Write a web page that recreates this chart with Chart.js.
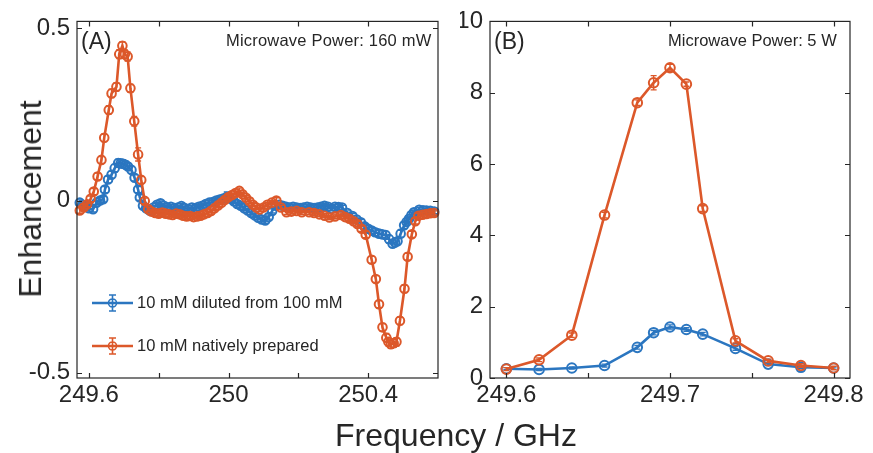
<!DOCTYPE html>
<html>
<head>
<meta charset="utf-8">
<script src="https://cdn.jsdelivr.net/npm/chart.js@4.4.0/dist/chart.umd.min.js"></script>
<style>
  body { margin: 0; background: #fff; width: 873px; height: 453px; overflow: hidden; position: relative;
         font-family: 'Liberation Sans', Arial, sans-serif; color: #262626; }
  canvas { position: absolute; top: 0; }
  #panelA { left: 0; }
  #panelB { left: 460px; }
  .axis-title { position: absolute; font-size: 32px; white-space: nowrap; line-height: 1; }
  #ylab { left: 30px; top: 199px; transform: translate(-50%, -50%) rotate(-90deg); }
  #xlab { left: 456px; top: 435px; transform: translate(-50%, -50%); }
</style>
</head>
<body>
<canvas id="panelA" width="460" height="453"></canvas>
<canvas id="panelB" width="413" height="453"></canvas>
<div class="axis-title" id="ylab">Enhancement</div>
<div class="axis-title" id="xlab">Frequency / GHz</div>

<script>
// ---- (A) 160 mW sweep ----
const freqA_diluted = [
  249.574, 249.582, 249.589, 249.600, 249.612, 249.622, 249.632, 249.641, 249.646, 249.655,
  249.665, 249.674, 249.684, 249.691, 249.698, 249.705, 249.712, 249.722, 249.731, 249.741,
  249.746, 249.755, 249.764, 249.774, 249.785, 249.795, 249.805, 249.815, 249.825, 249.835,
  249.845, 249.855, 249.865, 249.875, 249.885, 249.895, 249.905, 249.915, 249.925, 249.935,
  249.945, 249.955, 249.965, 249.975, 249.985, 249.995, 250.005, 250.015, 250.025, 250.035,
  250.045, 250.055, 250.065, 250.075, 250.085, 250.095, 250.105, 250.115, 250.125, 250.135,
  250.145, 250.155, 250.165, 250.175, 250.185, 250.195, 250.205, 250.215, 250.225, 250.235,
  250.245, 250.255, 250.265, 250.275, 250.285, 250.295, 250.305, 250.315, 250.325, 250.340,
  250.355, 250.367, 250.379, 250.390, 250.400, 250.410, 250.420, 250.431, 250.440, 250.450,
  250.460, 250.470, 250.477, 250.484, 250.493, 250.503, 250.510, 250.517, 250.524, 250.531,
  250.546, 250.557, 250.567, 250.578, 250.589
];
const enhA_diluted = [
  -0.006, -0.012, -0.017, -0.022, -0.025, -0.006, 0.000, 0.004, 0.032, 0.061,
  0.075, 0.094, 0.109, 0.108, 0.107, 0.104, 0.099, 0.089, 0.066, 0.032,
  0.009, -0.015, -0.022, -0.029, -0.020, -0.012, -0.008, -0.015, -0.020, -0.018,
  -0.022, -0.020, -0.016, -0.022, -0.025, -0.020, -0.022, -0.018, -0.015, -0.010,
  -0.006, -0.004, 0.000, 0.003, 0.006, 0.010, 0.006, -0.002, -0.010, -0.015,
  -0.022, -0.029, -0.036, -0.043, -0.050, -0.055, -0.058, -0.048, -0.030, -0.015,
  -0.012, -0.015, -0.018, -0.020, -0.018, -0.020, -0.022, -0.020, -0.018, -0.020,
  -0.022, -0.020, -0.018, -0.015, -0.018, -0.024, -0.018, -0.019, -0.020, -0.036,
  -0.045, -0.055, -0.063, -0.075, -0.082, -0.087, -0.092, -0.096, -0.098, -0.100,
  -0.112, -0.125, -0.122, -0.118, -0.096, -0.072, -0.062, -0.053, -0.042, -0.034,
  -0.027, -0.028, -0.029, -0.030, -0.032
];
const errA_diluted = [
  0.008, 0.007, 0.007, 0.008, 0.008, 0.007, 0.008, 0.008, 0.009, 0.010,
  0.010, 0.011, 0.011, 0.011, 0.011, 0.010, 0.010, 0.010, 0.009, 0.009,
  0.008, 0.008, 0.007, 0.007, 0.006, 0.006, 0.007, 0.006, 0.006, 0.007,
  0.006, 0.006, 0.007, 0.006, 0.006, 0.006, 0.007, 0.006, 0.006, 0.006,
  0.007, 0.006, 0.006, 0.007, 0.008, 0.015, 0.008, 0.006, 0.006, 0.007,
  0.006, 0.006, 0.006, 0.007, 0.006, 0.006, 0.008, 0.006, 0.006, 0.007,
  0.006, 0.006, 0.006, 0.007, 0.006, 0.006, 0.006, 0.007, 0.006, 0.006,
  0.007, 0.006, 0.006, 0.007, 0.006, 0.006, 0.006, 0.007, 0.006, 0.006,
  0.007, 0.007, 0.008, 0.008, 0.009, 0.009, 0.010, 0.010, 0.010, 0.010,
  0.011, 0.011, 0.011, 0.010, 0.010, 0.009, 0.009, 0.008, 0.008, 0.007,
  0.007, 0.006, 0.006, 0.006, 0.006
];

const freqA_native = [
  249.574, 249.585, 249.595, 249.605, 249.614, 249.625, 249.636, 249.644, 249.657, 249.665,
  249.679, 249.687, 249.696, 249.703, 249.711, 249.719, 249.730, 249.741, 249.750, 249.760,
  249.770, 249.779, 249.790, 249.800, 249.810, 249.820, 249.830, 249.840, 249.850, 249.860,
  249.870, 249.880, 249.890, 249.900, 249.910, 249.920, 249.930, 249.940, 249.950, 249.960,
  249.970, 249.980, 249.990, 250.000, 250.010, 250.020, 250.031, 250.040, 250.050, 250.060,
  250.070, 250.080, 250.089, 250.100, 250.111, 250.124, 250.137, 250.150, 250.166, 250.180,
  250.195, 250.210, 250.231, 250.245, 250.260, 250.275, 250.289, 250.305, 250.322, 250.334,
  250.346, 250.358, 250.369, 250.381, 250.393, 250.410, 250.422, 250.431, 250.441, 250.452,
  250.458, 250.465, 250.473, 250.481, 250.491, 250.504, 250.513, 250.525, 250.535, 250.544,
  250.556, 250.567, 250.578, 250.589
];
const enhA_native = [
  -0.029, -0.020, -0.011, 0.005, 0.026, 0.070, 0.118, 0.182, 0.263, 0.311,
  0.330, 0.425, 0.449, 0.425, 0.418, 0.326, 0.230, 0.134, 0.060, -0.001,
  -0.025, -0.032, -0.036, -0.038, -0.035, -0.038, -0.040, -0.042, -0.038, -0.040,
  -0.044, -0.046, -0.045, -0.048, -0.046, -0.044, -0.040, -0.036, -0.030, -0.022,
  -0.014, -0.006, 0.002, 0.010, 0.016, 0.022, 0.028, 0.018, 0.008, -0.002,
  -0.012, -0.020, -0.026, -0.020, -0.012, -0.006, 0.000, -0.020, -0.034, -0.032,
  -0.030, -0.034, -0.034, -0.036, -0.040, -0.044, -0.049, -0.046, -0.042, -0.048,
  -0.053, -0.060, -0.068, -0.082, -0.099, -0.172, -0.228, -0.301, -0.368, -0.398,
  -0.410, -0.417, -0.414, -0.410, -0.349, -0.256, -0.163, -0.098, -0.060, -0.044,
  -0.041, -0.039, -0.037, -0.036
];
const errA_native = [
  0.008, 0.008, 0.007, 0.008, 0.009, 0.010, 0.010, 0.011, 0.012, 0.012,
  0.012, 0.013, 0.012, 0.012, 0.013, 0.012, 0.014, 0.019, 0.010, 0.008,
  0.006, 0.006, 0.006, 0.006, 0.006, 0.007, 0.006, 0.006, 0.006, 0.007,
  0.006, 0.006, 0.007, 0.006, 0.006, 0.006, 0.007, 0.006, 0.006, 0.006,
  0.007, 0.006, 0.006, 0.007, 0.006, 0.006, 0.008, 0.006, 0.006, 0.007,
  0.006, 0.006, 0.006, 0.007, 0.006, 0.006, 0.008, 0.006, 0.006, 0.007,
  0.006, 0.006, 0.006, 0.007, 0.006, 0.006, 0.006, 0.007, 0.006, 0.006,
  0.007, 0.006, 0.007, 0.008, 0.009, 0.010, 0.010, 0.011, 0.011, 0.012,
  0.012, 0.012, 0.012, 0.012, 0.011, 0.011, 0.010, 0.009, 0.008, 0.007,
  0.006, 0.006, 0.006, 0.006
];

// ---- (B) 5 W sweep ----
const freqB = [249.60, 249.62, 249.64, 249.66, 249.68, 249.69, 249.70, 249.71, 249.72, 249.74, 249.76, 249.78, 249.80];
const enhB_diluted = [0.26, 0.24, 0.28, 0.35, 0.86, 1.27, 1.43, 1.36, 1.23, 0.83, 0.39, 0.30, 0.28];
const errB_diluted = [0.03, 0.03, 0.03, 0.04, 0.05, 0.06, 0.06, 0.05, 0.05, 0.05, 0.04, 0.03, 0.03];
const enhB_native = [0.25, 0.51, 1.20, 4.57, 7.72, 8.28, 8.70, 8.24, 4.75, 1.04, 0.48, 0.35, 0.28];
const errB_native = [0.04, 0.05, 0.06, 0.08, 0.08, 0.20, 0.10, 0.06, 0.08, 0.06, 0.05, 0.05, 0.05];

const seriesNames = ['10 mM diluted from 100 mM', '10 mM natively prepared'];
const BLUE = '#2b76c0';
const ORANGE = '#dc582a';
const INK = '#262626';
const FONT = "'Liberation Sans', Arial, sans-serif";

const toPoints = (xs, ys) => xs.map((x, i) => ({ x, y: ys[i] }));
const near = (a, b) => Math.abs(a - b) < 1e-6;

// vertical error bars with small caps, drawn right after each series
const errorBarPlugin = {
  id: 'errorBars',
  afterDatasetDraw(chart, args) {
    const ds = chart.data.datasets[args.index];
    if (!ds.errors) return;
    const y = chart.scales.y;
    const ctx = chart.ctx;
    const cap = 3;
    ctx.save();
    ctx.strokeStyle = ds.borderColor;
    ctx.lineWidth = 1.4;
    ctx.beginPath();
    args.meta.data.forEach((pt, i) => {
      const v = ds.data[i].y, e = ds.errors[i] || 0;
      const y1 = y.getPixelForValue(v - e), y2 = y.getPixelForValue(v + e);
      ctx.moveTo(pt.x, y1); ctx.lineTo(pt.x, y2);
      ctx.moveTo(pt.x - cap, y1); ctx.lineTo(pt.x + cap, y1);
      ctx.moveTo(pt.x - cap, y2); ctx.lineTo(pt.x + cap, y2);
    });
    ctx.stroke();
    ctx.restore();
  }
};

// box, inward ticks, panel tags and legend
const framePlugin = {
  id: 'frame',
  afterDatasetsDraw(chart, args, opts) {
    const { ctx, chartArea: a, scales: { x, y } } = chart;
    ctx.save();
    ctx.strokeStyle = INK;
    ctx.lineWidth = 1.2;
    ctx.strokeRect(a.left, a.top, a.right - a.left, a.bottom - a.top);
    const len = 5;
    ctx.beginPath();
    opts.xTicks.forEach(v => {
      const px = Math.round(x.getPixelForValue(v)) + 0.5;
      ctx.moveTo(px, a.bottom); ctx.lineTo(px, a.bottom - len);
      ctx.moveTo(px, a.top); ctx.lineTo(px, a.top + len);
    });
    opts.yTicks.forEach(v => {
      const py = Math.round(y.getPixelForValue(v)) + 0.5;
      ctx.moveTo(a.left, py); ctx.lineTo(a.left + len, py);
      ctx.moveTo(a.right, py); ctx.lineTo(a.right - len, py);
    });
    ctx.stroke();

    ctx.fillStyle = INK;
    ctx.textBaseline = 'middle';
    ctx.font = '23px ' + FONT;
    ctx.fillText(opts.tag, a.left + 4, 43);
    ctx.font = '16.5px ' + FONT;
    ctx.letterSpacing = opts.noteSpacing || '0px';
    ctx.fillText(opts.note, opts.noteX, 41);
    ctx.letterSpacing = '0px';

    if (opts.legend) {
      opts.legend.forEach(item => {
        const ly = item.y;
        ctx.strokeStyle = item.color;
        ctx.lineWidth = 2.4;
        ctx.beginPath();
        ctx.moveTo(92, ly); ctx.lineTo(133, ly);
        ctx.stroke();
        ctx.lineWidth = 1.6;
        ctx.beginPath();
        ctx.arc(112.5, ly, 4, 0, Math.PI * 2);
        ctx.moveTo(112.5, ly - 8); ctx.lineTo(112.5, ly + 8);
        ctx.moveTo(109, ly - 8); ctx.lineTo(116, ly - 8);
        ctx.moveTo(109, ly + 8); ctx.lineTo(116, ly + 8);
        ctx.stroke();
        ctx.fillStyle = INK;
        ctx.font = '16.5px ' + FONT;
        ctx.fillText(item.text, 137, ly);
      });
    }
    ctx.restore();
  }
};

function series(label, pts, errs, color, order, radius) {
  return {
    label, data: pts, errors: errs, order,
    borderColor: color, backgroundColor: color,
    borderWidth: 2.6,
    pointRadius: radius, pointBorderWidth: 2,
    pointBackgroundColor: 'rgba(255,255,255,0)',
    pointBorderColor: color,
    tension: 0, clip: false
  };
}

function panel(id, cfg) {
  return new Chart(document.getElementById(id), {
    type: 'line',
    data: { datasets: cfg.datasets },
    options: {
      responsive: false,
      animation: false,
      layout: { padding: cfg.padding },
      plugins: {
        legend: { display: false },
        tooltip: { enabled: false },
        frame: cfg.frame
      },
      scales: {
        x: {
          type: 'linear', min: cfg.xMin, max: cfg.xMax,
          grid: { display: false, drawTicks: false },
          border: { display: false },
          afterBuildTicks: s => { s.ticks = cfg.frame.xTicks.map(v => ({ value: v })); },
          afterFit: s => { s.height = 75; },
          ticks: {
            autoSkip: false, maxRotation: 0, padding: 3, color: INK,
            font: { family: FONT, size: 24 },
            callback: v => (cfg.xLabels.some(l => near(l, v)) ? String(+v.toFixed(2)) : '')
          }
        },
        y: {
          min: cfg.yMin, max: cfg.yMax,
          grid: { display: false, drawTicks: false },
          border: { display: false },
          afterBuildTicks: s => { s.ticks = cfg.frame.yTicks.map(v => ({ value: v })); },
          afterFit: s => { s.width = cfg.yWidth; },
          ticks: {
            autoSkip: false, padding: 7, color: INK,
            font: { family: FONT, size: 24 },
            callback: v => String(v)
          }
        }
      }
    },
    plugins: [errorBarPlugin, framePlugin]
  });
}

panel('panelA', {
  datasets: [
    series(seriesNames[0], toPoints(freqA_diluted, enhA_diluted), errA_diluted, BLUE, 2, 4.3),
    series(seriesNames[1], toPoints(freqA_native, enhA_native), errA_native, ORANGE, 1, 4.3)
  ],
  padding: { left: 0, top: 17, right: 22, bottom: 0 },
  yWidth: 77,
  xMin: 249.566, xMax: 250.6,
  yMin: -0.515, yMax: 0.52,
  xLabels: [249.6, 250, 250.4],
  frame: {
    xTicks: [249.6, 249.8, 250, 250.2, 250.4],
    yTicks: [-0.5, 0, 0.5],
    tag: '(A)', note: 'Microwave Power: 160 mW', noteX: 226, noteSpacing: '0.2px',
    legend: [
      { text: seriesNames[0], color: BLUE, y: 303 },
      { text: seriesNames[1], color: ORANGE, y: 346 }
    ]
  }
});

panel('panelB', {
  datasets: [
    series(seriesNames[0], toPoints(freqB, enhB_diluted), errB_diluted, BLUE, 2, 4.8),
    series(seriesNames[1], toPoints(freqB, enhB_native), errB_native, ORANGE, 1, 4.8)
  ],
  padding: { left: 0, top: 16, right: 23, bottom: 0 },
  yWidth: 30,
  xMin: 249.59, xMax: 249.81,
  yMin: 0, yMax: 10,
  xLabels: [249.6, 249.7, 249.8],
  frame: {
    xTicks: [249.6, 249.65, 249.7, 249.75, 249.8],
    yTicks: [0, 2, 4, 6, 8, 10],
    tag: '(B)', note: 'Microwave Power: 5 W', noteX: 208
  }
});
</script>
</body>
</html>
